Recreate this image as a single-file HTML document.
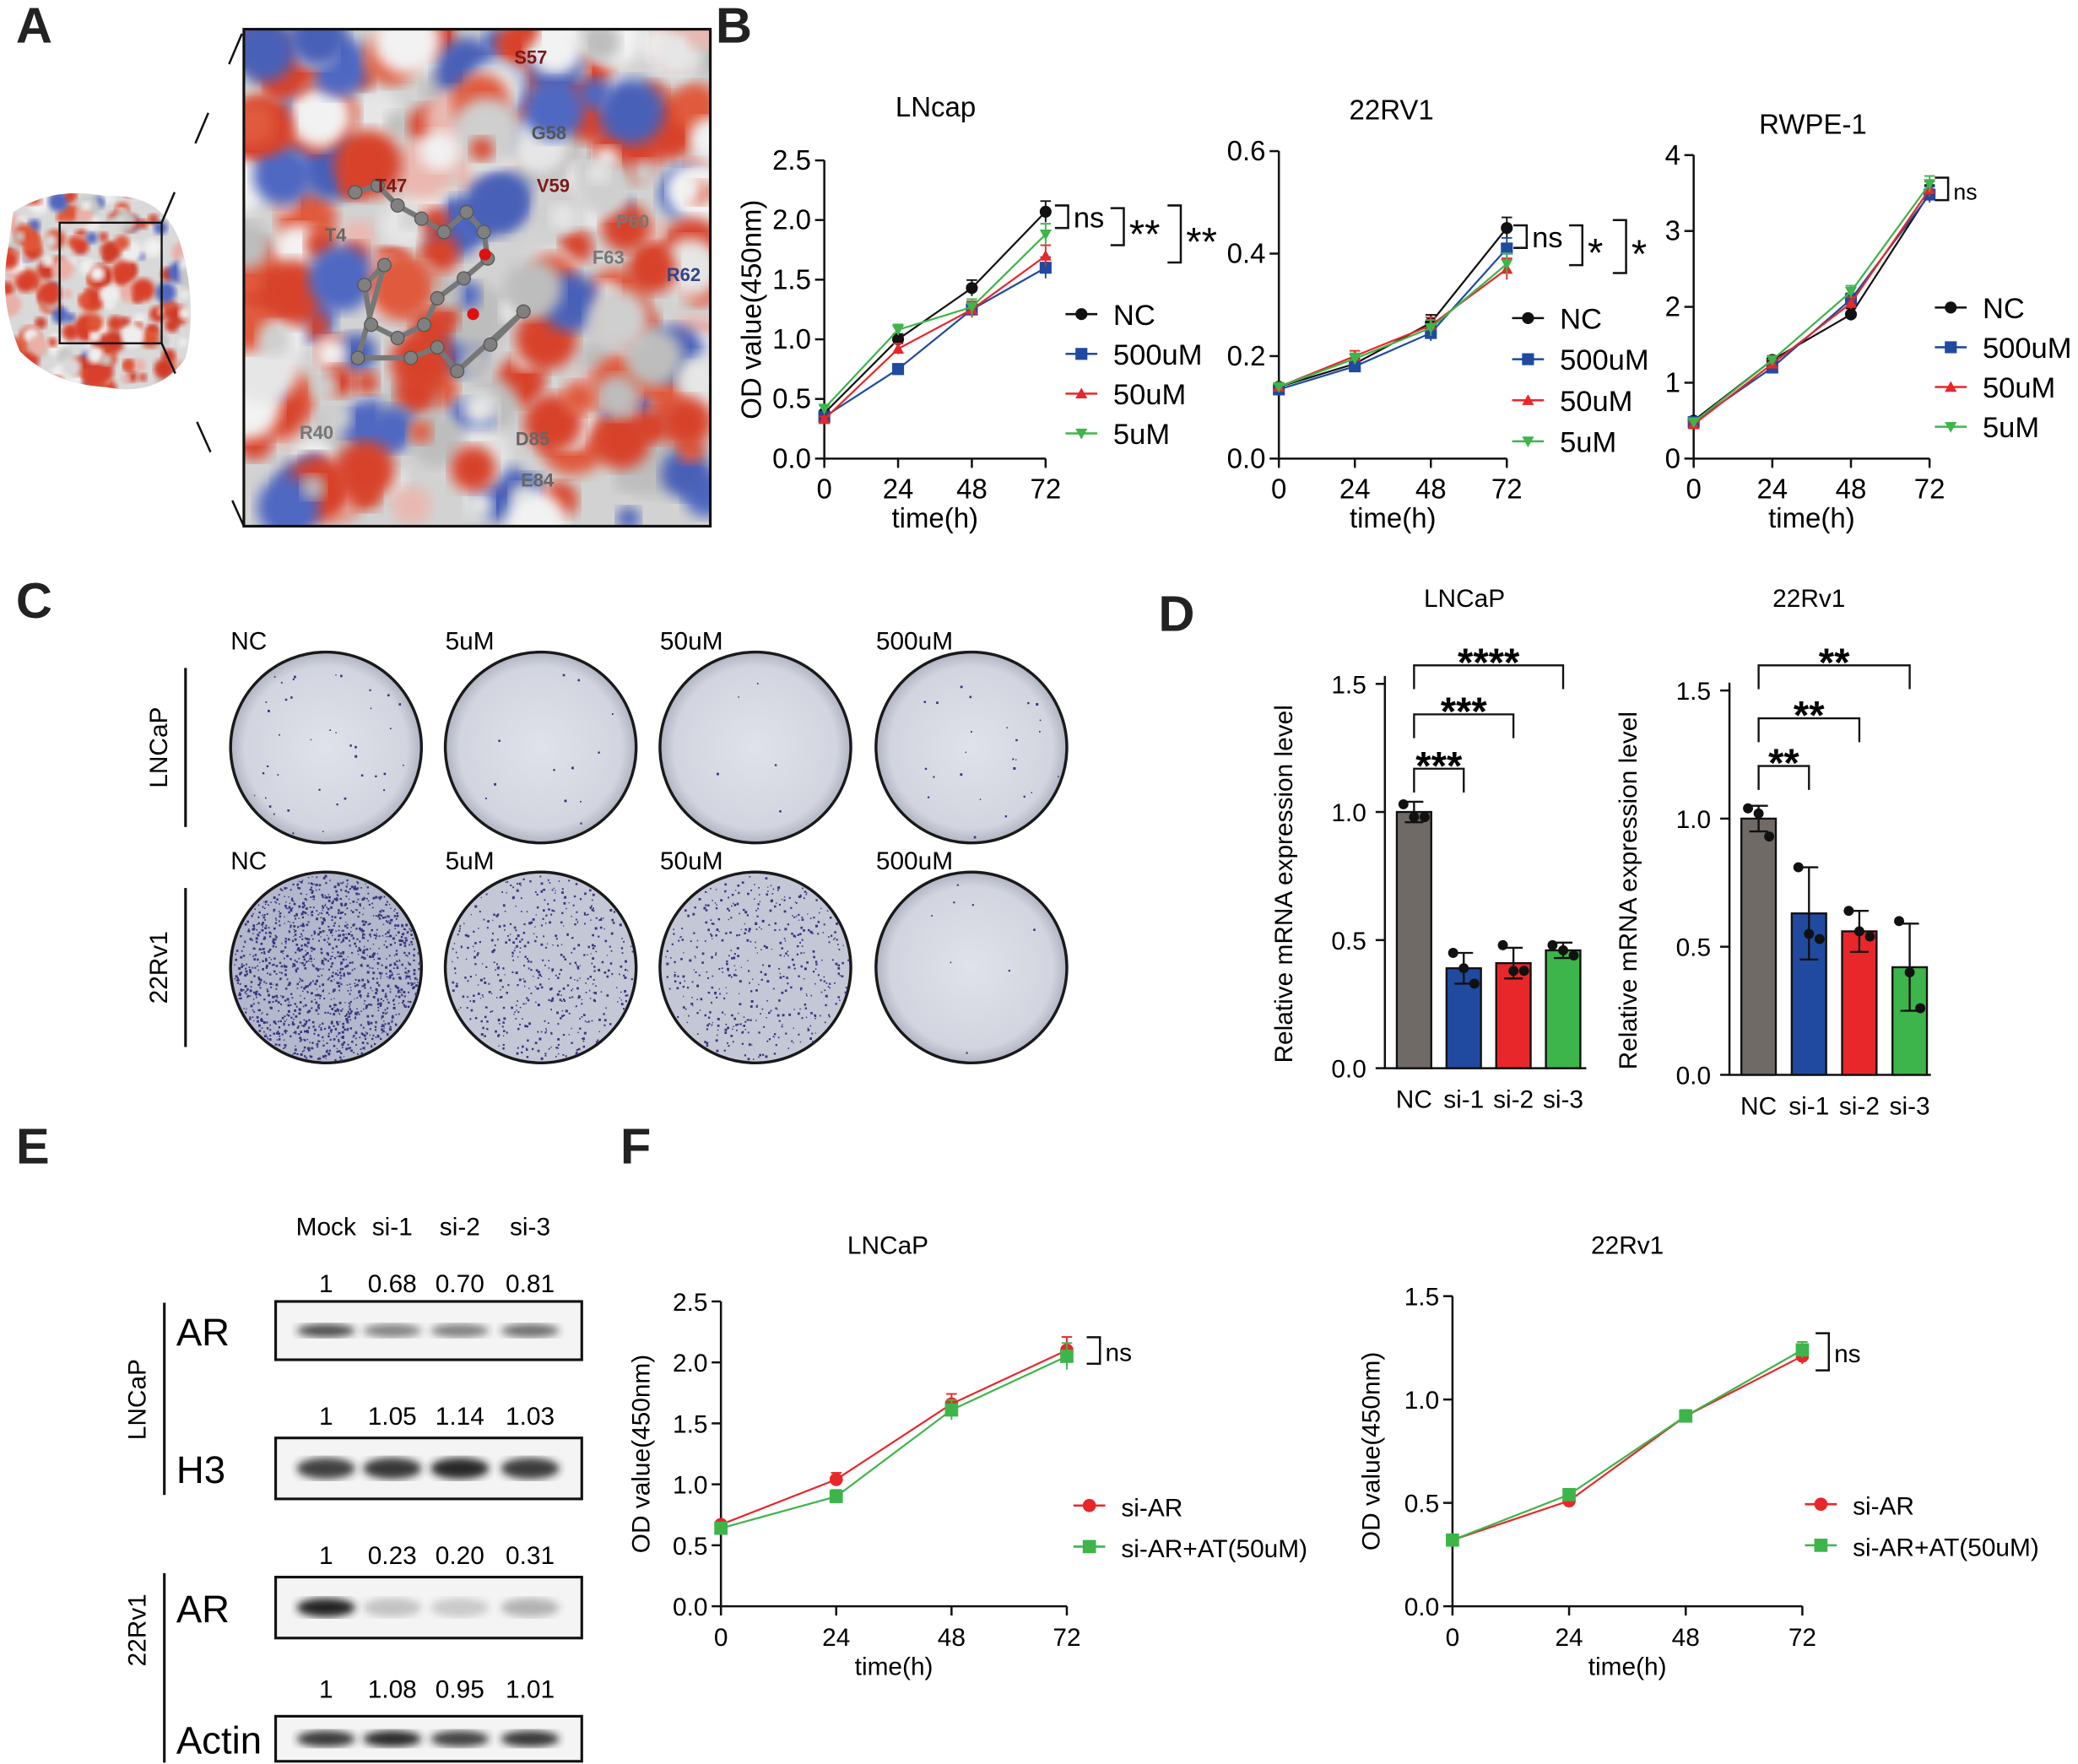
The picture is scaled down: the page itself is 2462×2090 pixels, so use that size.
<!DOCTYPE html>
<html><head><meta charset="utf-8"><style>
html,body{margin:0;padding:0;background:#fff;}
svg{display:block;font-family:"Liberation Sans",Arial,sans-serif;}
</style></head><body>
<svg id="fig" width="2462" height="2090" viewBox="0 0 1568 1331" xmlns="http://www.w3.org/2000/svg">
<defs>
<filter id="blur6"><feGaussianBlur stdDeviation="5"/></filter>
<filter id="blur3"><feGaussianBlur stdDeviation="3"/></filter>
<filter id="blur2"><feGaussianBlur stdDeviation="2"/></filter>
<radialGradient id="plateG" cx="50%" cy="50%" r="50%"><stop offset="0" stop-color="#dfe2ea"/><stop offset="0.85" stop-color="#d2d5df"/><stop offset="1" stop-color="#b0b4c2"/></radialGradient>
<clipPath id="boxClip"><rect x="184" y="22" width="352" height="375"/></clipPath>
<clipPath id="smallClip"><path d="M10,160 Q40,140 80,148 Q120,145 135,180 Q150,230 140,270 Q120,300 80,292 Q40,290 15,265 Q0,230 5,195 Z"/></clipPath>
</defs>
<g font-weight="bold" font-size="38" fill="#222">
<text x="12" y="32">A</text><text x="540" y="32">B</text><text x="12" y="466">C</text><text x="874" y="476">D</text><text x="12" y="878">E</text><text x="468" y="878">F</text>
</g>
<g id="panelA"></g>
<g id="panelB"></g>
<g id="panelC"></g>
<g id="panelD"></g>
<g id="panelE"></g>
<g id="panelF"></g>
</svg>
<script>
// ---------- DATA ----------
const timePoints = [0, 24, 48, 72];
const bSeriesNames = ["NC", "500uM", "50uM", "5uM"];
const lncapNC = [0.38, 1.00, 1.43, 2.07];
const lncap500 = [0.35, 0.75, 1.25, 1.60];
const lncap50 = [0.33, 0.92, 1.25, 1.70];
const lncap5 = [0.42, 1.08, 1.27, 1.88];
const rv22NC = [0.14, 0.185, 0.265, 0.45];
const rv22500 = [0.135, 0.18, 0.245, 0.41];
const rv2250 = [0.14, 0.20, 0.26, 0.37];
const rv225 = [0.14, 0.195, 0.255, 0.38];
const rwpeNC = [0.50, 1.30, 1.90, 3.50];
const rwpe500 = [0.48, 1.20, 2.10, 3.48];
const rwpe50 = [0.45, 1.25, 2.05, 3.55];
const rwpe5 = [0.48, 1.30, 2.20, 3.62];
const lncapTicks = [0.0, 0.5, 1.0, 1.5, 2.0, 2.5];
const rv22Ticks = [0.0, 0.2, 0.4, 0.6];
const rwpeTicks = [0, 1, 2, 3, 4];
const dCategories = ["NC", "si-1", "si-2", "si-3"];
const dLncapMeans = [1.00, 0.39, 0.41, 0.46];
const dLncapErr = [0.04, 0.06, 0.06, 0.03];
const dLncapPts = [[1.03, 0.98, 0.98], [0.45, 0.39, 0.33], [0.48, 0.38, 0.38], [0.48, 0.46, 0.44]];
const d22Means = [1.00, 0.63, 0.56, 0.42];
const d22Err = [0.05, 0.18, 0.08, 0.17];
const d22Pts = [[1.04, 1.02, 0.93], [0.81, 0.55, 0.53], [0.64, 0.56, 0.54], [0.60, 0.40, 0.26]];
const dTicks = [0.0, 0.5, 1.0, 1.5];
const fSeriesNames = ["si-AR", "si-AR+AT(50uM)"];
const fLncapSiAR = [0.67, 1.04, 1.66, 2.10];
const fLncapAT = [0.64, 0.90, 1.61, 2.05];
const f22SiAR = [0.32, 0.51, 0.92, 1.21];
const f22AT = [0.32, 0.54, 0.92, 1.24];
const fLncapTicks = [0.0, 0.5, 1.0, 1.5, 2.0, 2.5];
const f22Ticks = [0.0, 0.5, 1.0, 1.5];
const blotLanes = ["Mock", "si-1", "si-2", "si-3"];
const arLncapInt = [1, 0.68, 0.70, 0.81];
const h3Int = [1, 1.05, 1.14, 1.03];
const ar22Int = [1, 0.23, 0.20, 0.31];
const actinInt = [1, 1.08, 0.95, 1.01];

const NS = "http://www.w3.org/2000/svg";
function mk(tag, attrs, parent, txt) {
  const e = document.createElementNS(NS, tag);
  for (const k in attrs) e.setAttribute(k, attrs[k]);
  if (txt !== undefined) e.textContent = txt;
  parent.appendChild(e);
  return e;
}
const BLK = "#111";
const COL = { black: "#111", blue: "#1f4aa0", red: "#e8272a", green: "#3db54a", gray: "#706a66" };

function marker(type, x, y, color, g, s) {
  s = s || 4.5;
  let m;
  if (type === "circle") m = mk("circle", { cx: x, cy: y, r: s, fill: color }, g);
  else if (type === "square") m = mk("rect", { x: x - s, y: y - s, width: 2 * s, height: 2 * s, fill: color }, g);
  else if (type === "up") m = mk("polygon", { points: `${x},${y - s} ${x - s},${y + s * 0.8} ${x + s},${y + s * 0.8}`, fill: color }, g);
  else m = mk("polygon", { points: `${x},${y + s} ${x - s},${y - s * 0.8} ${x + s},${y - s * 0.8}`, fill: color }, g);
  
  
  return m;
}

function lineChart(p, cfg) {
  const g = mk("g", {}, p);
  
  
  const sx = t => cfg.x0 + (t / 72) * (cfg.x1 - cfg.x0);
  const sy = v => cfg.y0 - (v / cfg.ymax) * (cfg.y0 - cfg.yTop);
  const ax = mk("path", { d: `M${cfg.x0},${cfg.yTop} V${cfg.y0} H${cfg.x1}`, stroke: BLK, "stroke-width": 1.6, fill: "none" }, g);
  
  
  cfg.ticks.forEach(v => {
    mk("line", { x1: cfg.x0 - 7, x2: cfg.x0, y1: sy(v), y2: sy(v), stroke: BLK, "stroke-width": 1.6 }, g);
    const t = mk("text", { x: cfg.x0 - 10, y: sy(v) + 7, "text-anchor": "end", "font-size": cfg.fs }, g, cfg.tickFmt(v));
    
    
  });
  timePoints.forEach(tp => {
    mk("line", { x1: sx(tp), x2: sx(tp), y1: cfg.y0, y2: cfg.y0 + 7, stroke: BLK, "stroke-width": 1.6 }, g);
    const t = mk("text", { x: sx(tp), y: cfg.y0 + 30, "text-anchor": "middle", "font-size": cfg.fs }, g, String(tp));
    
    
  });
  const xt = mk("text", { x: (cfg.x0 + cfg.x1) / 2, y: cfg.y0 + 52, "text-anchor": "middle", "font-size": cfg.fs }, g, "time(h)");
  
  
  if (cfg.ylabel) {
    const yt = mk("text", { x: 0, y: 0, "text-anchor": "middle", "font-size": cfg.fs, transform: `translate(${cfg.ylx},${(cfg.y0 + cfg.yTop) / 2}) rotate(-90)` }, g, cfg.ylabel);
    
    
  }
  const tt = mk("text", { x: cfg.titleX, y: cfg.titleY, "text-anchor": "middle", "font-size": cfg.fs }, g, cfg.title);
  
  
  cfg.series.forEach((s, i) => {
    const pts = s.vals.map((v, j) => `${sx(timePoints[j])},${sy(v)}`).join(" ");
    const pl = mk("polyline", { points: pts, fill: "none", stroke: s.color, "stroke-width": 1.4 }, g);
    
    
    s.vals.forEach((v, j) => {
      const e = cfg.err * (j + 1) / 2;
      mk("line", { x1: sx(timePoints[j]), x2: sx(timePoints[j]), y1: sy(v) - e, y2: sy(v) + e, stroke: s.color, "stroke-width": 1.2 }, g);
      mk("line", { x1: sx(timePoints[j]) - 4, x2: sx(timePoints[j]) + 4, y1: sy(v) - e, y2: sy(v) - e, stroke: s.color, "stroke-width": 1.2 }, g);
      marker(s.marker, sx(timePoints[j]), sy(v), s.color, g, cfg.ms);
    });
    const ly = cfg.legY + i * cfg.legDy;
    const ll = mk("line", { x1: cfg.legX - 12, x2: cfg.legX + 12, y1: ly, y2: ly, stroke: s.color, "stroke-width": 1.6 }, g);
    
    
    marker(s.marker, cfg.legX, ly, s.color, g, cfg.ms);
    const lt = mk("text", { x: cfg.legX + 24, y: ly + 8, "font-size": cfg.legFs }, g, s.name);
    
    
  });
  return g;
}
function bracket(g, x, y1, y2, label, fs) {
  const b = mk("path", { d: `M${x - 10},${y1} H${x} V${y2} H${x - 10}`, stroke: BLK, "stroke-width": 1.6, fill: "none" }, g);
  
  
  const star = label.indexOf("*") >= 0;
  const t = mk("text", { x: x + 4, y: (y1 + y2) / 2 + (star ? 16 : 8), "font-size": star ? 30 : (fs || 22) }, g, label);
  
  
}

// ---------- PANEL A ----------
(function () {
  const p = document.getElementById("panelA");
  let seed = 7; const rnd = () => { seed = (seed * 9301 + 49297) % 233280; return seed / 233280; };
  const cols = ["#d8402a", "#e05535", "#d9d9d9", "#eeeeee", "#5066c0", "#c7c7c7", "#e9b0a8", "#cf3b25", "#d8402a", "#f0f0f0"];
  const sg = mk("g", { "clip-path": "url(#smallClip)" }, p);
  
  
  mk("rect", { x: 0, y: 140, width: 150, height: 160, fill: "#d9d9d9" }, sg);
  for (let i = 0; i < 220; i++) mk("circle", { cx: 5 + rnd() * 140, cy: 145 + rnd() * 150, r: 3 + rnd() * 6, fill: cols[Math.floor(rnd() * cols.length)], filter: "url(#blur2)" }, sg);
  const sb = mk("rect", { x: 45, y: 168, width: 77, height: 91, fill: "none", stroke: BLK, "stroke-width": 1.5 }, p);
  
  
  mk("path", { d: "M122,168 L184,22 M122,259 L184,397", stroke: BLK, "stroke-width": 1.6, "stroke-dasharray": "25 40", fill: "none" }, p);
  const bg = mk("g", { "clip-path": "url(#boxClip)" }, p);
  
  
  mk("rect", { x: 184, y: 22, width: 352, height: 375, fill: "#d2d2d2" }, bg);
  const bcols = ["#d8432c", "#d8432c", "#e05a3c", "#e6e6e6", "#f2f2f2", "#bdbdbd", "#5068c2", "#eab8b0", "#d8432c", "#cfcfcf", "#4a60b8"];
  for (let i = 0; i < 260; i++) mk("circle", { cx: 184 + rnd() * 352, cy: 22 + rnd() * 375, r: 8 + rnd() * 18, fill: bcols[Math.floor(rnd() * bcols.length)], filter: "url(#blur6)" }, bg);
  const lig = [[268, 145], [285, 140], [300, 155], [318, 165], [335, 175], [352, 160], [365, 175], [368, 195], [350, 210], [330, 225], [320, 245], [300, 255], [280, 245], [275, 215], [290, 200], [270, 270], [310, 270], [330, 262], [345, 280], [395, 235], [370, 260]];
  let d = "M" + lig.map(q => q.join(",")).join(" L");
  mk("path", { d: d, stroke: "#777", "stroke-width": 4, fill: "none" }, bg);
  lig.forEach(q => mk("circle", { cx: q[0], cy: q[1], r: 5, fill: "#808080", stroke: "#555", "stroke-width": 0.8 }, bg));
  mk("circle", { cx: 366, cy: 192, r: 4.5, fill: "#e01010" }, bg);
  mk("circle", { cx: 357, cy: 237, r: 4.5, fill: "#e01010" }, bg);
  const labs = [["S57", 388, 48, "#7a1a1a"], ["G58", 401, 105, "#555"], ["T47", 283, 145, "#7a1a1a"], ["V59", 405, 145, "#7a1a1a"], ["P60", 465, 172, "#777"], ["F63", 447, 199, "#777"], ["R62", 503, 212, "#334488"], ["T4", 245, 182, "#666"], ["R40", 226, 331, "#777"], ["D85", 389, 336, "#666"], ["E84", 393, 367, "#666"]];
  labs.forEach(l => { const t = mk("text", { x: l[1], y: l[2], "font-size": 14, "font-weight": "bold", fill: l[3] }, bg, l[0]);   });
  const bb = mk("rect", { x: 184, y: 22, width: 352, height: 375, fill: "none", stroke: BLK, "stroke-width": 2 }, p);
  
  
})();

// ---------- PANEL B ----------
(function () {
  const p = document.getElementById("panelB");
  const mkS = (a, b, c, d) => [
    { name: bSeriesNames[0], vals: a, color: COL.black, marker: "circle" },
    { name: bSeriesNames[1], vals: b, color: COL.blue, marker: "square" },
    { name: bSeriesNames[2], vals: c, color: COL.red, marker: "up" },
    { name: bSeriesNames[3], vals: d, color: COL.green, marker: "down" }];
  const g1 = lineChart(p, { name: "chart-lncap-growth", x0: 622, x1: 789, y0: 346, yTop: 121, ymax: 2.5, ticks: lncapTicks, tickFmt: v => v.toFixed(1), fs: 21, title: "LNcap", titleX: 706, titleY: 88, ylabel: "OD value(450nm)", ylx: 574, series: mkS(lncapNC, lncap500, lncap50, lncap5), err: 4, ms: 4.5, legX: 816, legY: 237, legDy: 30, legFs: 22 });
  bracket(g1, 806, 155, 172, "ns");
  bracket(g1, 848, 157, 185, "**");
  bracket(g1, 891, 155, 198, "**");
  const g2 = lineChart(p, { name: "chart-22rv1-growth", x0: 965, x1: 1137, y0: 346, yTop: 114, ymax: 0.6, ticks: rv22Ticks, tickFmt: v => v.toFixed(1), fs: 21, title: "22RV1", titleX: 1050, titleY: 90, series: mkS(rv22NC, rv22500, rv2250, rv225), err: 4, ms: 4.5, legX: 1153, legY: 240, legDy: 31, legFs: 22 });
  bracket(g2, 1152, 170, 187, "ns");
  bracket(g2, 1194, 170, 200, "*");
  bracket(g2, 1227, 166, 206, "*");
  const g3 = lineChart(p, { name: "chart-rwpe1-growth", x0: 1278, x1: 1456, y0: 346, yTop: 117, ymax: 4, ticks: rwpeTicks, tickFmt: v => String(v), fs: 21, title: "RWPE-1", titleX: 1368, titleY: 101, series: mkS(rwpeNC, rwpe500, rwpe50, rwpe5), err: 3, ms: 4.5, legX: 1472, legY: 232, legDy: 30, legFs: 22 });
  bracket(g3, 1470, 134, 151, "ns", 17);
})();

// ---------- PANEL C ----------
(function () {
  const p = document.getElementById("panelC");
  const labels = ["NC", "5uM", "50uM", "500uM"];
  const xs = [246, 408, 570, 733];
  const density = [[40, 12, 5, 25], [1400, 520, 480, 8]];
  const rows = [564, 730];
  let seed = 11; const rnd = () => { seed = (seed * 9301 + 49297) % 233280; return seed / 233280; };
  rows.forEach((cy, r) => {
    xs.forEach((cx, i) => {
      const t = mk("text", { x: cx - 72, y: cy - 74, "font-size": 19 }, p, labels[i]);
      
      
      const pl = mk("g", {}, p);
      
      
      const fill = (r === 1 && i < 3) ? (i === 0 ? "#b4b8cc" : "#c4c8d6") : "url(#plateG)";
      mk("circle", { cx: cx, cy: cy, r: 72, fill: fill, stroke: "#1a1a1a", "stroke-width": 2.2 }, pl);
      let path = "";
      for (let k = 0; k < density[r][i]; k++) {
        const a = rnd() * Math.PI * 2, rr = 70 * Math.sqrt(rnd());
        const x = cx + rr * Math.cos(a), y = cy + rr * Math.sin(a), s = 0.8 + rnd() * 1.1;
        path += `M${x.toFixed(1)},${y.toFixed(1)}h${s.toFixed(1)}v${s.toFixed(1)}h-${s.toFixed(1)}z`;
      }
      mk("path", { d: path, fill: "#3a3580" }, pl);
    });
  });
  const rl = [["LNCaP", 564, 504, 624], ["22Rv1", 730, 670, 790]];
  rl.forEach(q => {
    mk("line", { x1: 140, x2: 140, y1: q[2], y2: q[3], stroke: BLK, "stroke-width": 2 }, p);
    const t = mk("text", { x: 0, y: 0, "font-size": 19, "text-anchor": "middle", transform: `translate(126,${q[1]}) rotate(-90)` }, p, q[0]);
    
    
  });
})();

// ---------- PANEL D ----------
function barChart(p, cfg) {
  const g = mk("g", {}, p);
  
  
  const sy = v => cfg.y0 - (v / 1.5) * (cfg.y0 - cfg.yTop);
  const colors = [COL.gray, COL.blue, COL.red, COL.green];
  const ax = mk("path", { d: `M${cfg.x0},${cfg.yTop - 6} V${cfg.y0} H${cfg.x0 + 152}`, stroke: BLK, "stroke-width": 1.6, fill: "none" }, g);
  
  
  dTicks.forEach(v => {
    mk("line", { x1: cfg.x0 - 7, x2: cfg.x0, y1: sy(v), y2: sy(v), stroke: BLK, "stroke-width": 1.6 }, g);
    const t = mk("text", { x: cfg.x0 - 14, y: sy(v) + 7, "text-anchor": "end", "font-size": 19 }, g, v.toFixed(1));
    
    
  });
  const yt = mk("text", { x: 0, y: 0, "text-anchor": "middle", "font-size": 19, transform: `translate(${cfg.x0 - 70},${(cfg.y0 + cfg.yTop) / 2 + 6}) rotate(-90)` }, g, "Relative mRNA expression level");
  
  
  const tt = mk("text", { x: cfg.x0 + 60, y: cfg.titleY, "text-anchor": "middle", "font-size": 19 }, g, cfg.title);
  
  
  cfg.means.forEach((m, i) => {
    const cx = cfg.x0 + 22 + i * cfg.step;
    const b = mk("rect", { x: cx - 13, y: sy(m), width: 26, height: cfg.y0 - sy(m), fill: colors[i], stroke: "#111", "stroke-width": 1.5 }, g);
    
    
    const e = cfg.err[i];
    mk("path", { d: `M${cx},${sy(m - e)} V${sy(m + e)} M${cx - 7},${sy(m + e)} H${cx + 7} M${cx - 7},${sy(m - e)} H${cx + 7}`, stroke: "#111", "stroke-width": 1.5, fill: "none" }, g);
    cfg.pts[i].forEach((v, k) => {
      const dt = mk("circle", { cx: cx + (k - 1) * 8, cy: sy(v), r: 3.8, fill: "#111" }, g);
      
      
    });
    const xl = mk("text", { x: cx, y: cfg.y0 + 30, "text-anchor": "middle", "font-size": 19 }, g, dCategories[i]);
    
    
  });
  cfg.sig.forEach(s => {
    const x1 = cfg.x0 + 22, x2 = cfg.x0 + 22 + s[0] * cfg.step;
    const br = mk("path", { d: `M${x1},${s[1] + 18} V${s[1]} H${x2} V${s[1] + 18}`, stroke: "#111", "stroke-width": 1.5, fill: "none" }, g);
    
    
    const t = mk("text", { x: (x1 + x2) / 2, y: s[1] + 8, "text-anchor": "middle", "font-size": 30, "font-weight": "bold" }, g, s[2]);
    
    
  });
}
(function () {
  const p = document.getElementById("panelD");
  barChart(p, { name: "chart-lncap-mrna", x0: 1045, y0: 806, yTop: 516, step: 37.5, titleY: 458, title: "LNCaP", means: dLncapMeans, err: dLncapErr, pts: dLncapPts, sig: [[1, 580, "***"], [2, 539, "***"], [3, 502, "****"]] });
  barChart(p, { name: "chart-22rv1-mrna", x0: 1305, y0: 811, yTop: 521, step: 38, titleY: 458, title: "22Rv1", means: d22Means, err: d22Err, pts: d22Pts, sig: [[1, 578, "**"], [2, 542, "**"], [3, 502, "**"]] });
})();

// ---------- PANEL E ----------
(function () {
  const p = document.getElementById("panelE");
  const laneX = [246, 296, 347, 400];
  blotLanes.forEach((l, i) => {
    const t = mk("text", { x: laneX[i], y: 932, "text-anchor": "middle", "font-size": 19 }, p, l);
    
    
  });
  const blots = [
    { name: "AR", vals: arLncapInt, y: 982, h: 44, numY: 975, band: 10, dark: 0.8 },
    { name: "H3", vals: h3Int, y: 1085, h: 46, numY: 1075, band: 16, dark: 0.85 },
    { name: "AR", vals: ar22Int, y: 1190, h: 46, numY: 1180, band: 14, dark: 1 },
    { name: "Actin", vals: actinInt, y: 1295, h: 34, numY: 1281, band: 12, dark: 0.9 }];
  blots.forEach(b => {
    const g = mk("g", {}, p);
    
    
    mk("rect", { x: 208, y: b.y, width: 231, height: b.h, fill: "#f4f4f4", stroke: "#111", "stroke-width": 2 }, g);
    b.vals.forEach((v, i) => {
      const op = Math.min(1, v * b.dark);
      const band = mk("ellipse", { cx: laneX[i], cy: b.y + b.h / 2, rx: 22, ry: b.band / 2, fill: "#222", opacity: Math.max(0.15, op), filter: "url(#blur3)" }, g);
      
      
      const n = mk("text", { x: laneX[i], y: b.numY, "text-anchor": "middle", "font-size": 19 }, g, String(v === 1 ? "1" : v.toFixed(2)));
      
      
    });
    const lb = mk("text", { x: 133, y: b.y + b.h / 2 + 11, "font-size": 29 }, g, b.name);
    
    
  });
  [["LNCaP", 983, 1128, 1056], ["22Rv1", 1187, 1330, 1230]].forEach(q => {
    mk("line", { x1: 124, x2: 124, y1: q[1], y2: q[2], stroke: "#111", "stroke-width": 2 }, p);
    const t = mk("text", { x: 0, y: 0, "text-anchor": "middle", "font-size": 19, transform: `translate(110,${q[3]}) rotate(-90)` }, p, q[0]);
    
    
  });
})();

// ---------- PANEL F ----------
(function () {
  const p = document.getElementById("panelF");
  const mkS = (a, b) => [
    { name: fSeriesNames[0], vals: a, color: COL.red, marker: "circle" },
    { name: fSeriesNames[1], vals: b, color: COL.green, marker: "square" }];
  const g1 = lineChart(p, { name: "chart-f-lncap-growth", x0: 544, x1: 805, y0: 1212, yTop: 982, ymax: 2.5, ticks: fLncapTicks, tickFmt: v => v.toFixed(1), fs: 19, title: "LNCaP", titleX: 670, titleY: 946, ylabel: "OD value(450nm)", ylx: 490, series: mkS(fLncapSiAR, fLncapAT), err: 5, ms: 5, legX: 822, legY: 1136, legDy: 31, legFs: 19 });
  bracket(g1, 830, 1009, 1029, "ns", 19);
  const g2 = lineChart(p, { name: "chart-f-22rv1-growth", x0: 1096, x1: 1360, y0: 1212, yTop: 978, ymax: 1.5, ticks: f22Ticks, tickFmt: v => v.toFixed(1), fs: 19, title: "22Rv1", titleX: 1228, titleY: 946, ylabel: "OD value(450nm)", ylx: 1041, series: mkS(f22SiAR, f22AT), err: 3, ms: 5, legX: 1374, legY: 1135, legDy: 31, legFs: 19 });
  bracket(g2, 1380, 1006, 1034, "ns", 19);
})();
</script>
</body></html>
